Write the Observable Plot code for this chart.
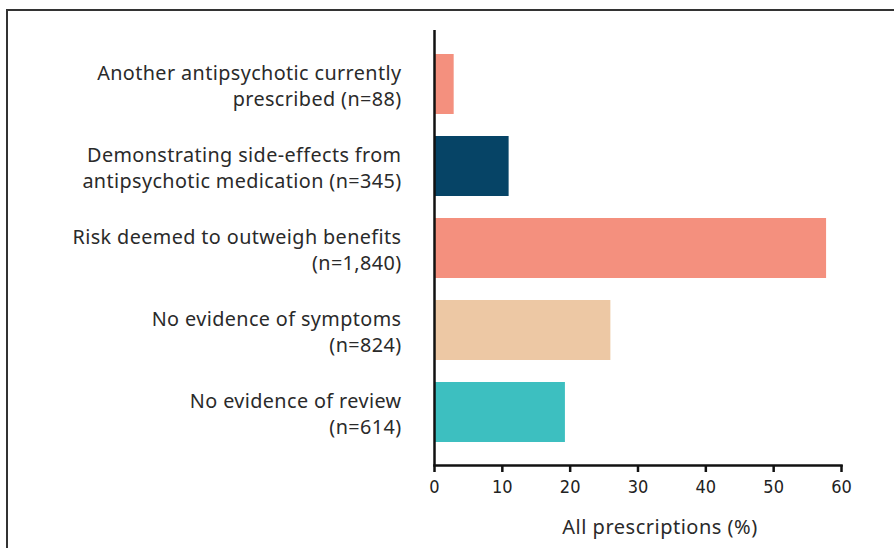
<!DOCTYPE html>
<html>
<head>
<meta charset="utf-8">
<script src="https://cdn.jsdelivr.net/npm/d3@7"></script>
<script src="https://cdn.jsdelivr.net/npm/@observablehq/plot@0.6"></script>
<style>
  html, body { margin: 0; padding: 0; background: #fff; }
  #wrap { position: relative; width: 894px; height: 548px; overflow: hidden; }
  #border { position: absolute; left: 6px; top: 9px; width: 900px; height: 600px;
            border-left: 2px solid #333; border-top: 2px solid #333; pointer-events: none; }
  #chart { position: absolute; left: 0; top: 0; }
  g[aria-label="y-axis tick label"] text { letter-spacing: 0.4px; }
  g.xlab text { letter-spacing: 0.5px; }
</style>
</head>
<body>
<div id="wrap"><div id="chart"></div><div id="border"></div></div>
<script>
const categories = [
  "Another antipsychotic currently\nprescribed (n=88)",
  "Demonstrating side-effects from\nantipsychotic medication (n=345)",
  "Risk deemed to outweigh benefits\n(n=1,840)",
  "No evidence of symptoms\n(n=824)",
  "No evidence of review\n(n=614)"
];
const values = [2.9, 11.0, 57.8, 26.0, 19.3];
const colors = ["#F4907E", "#064466", "#F4907E", "#EDC8A4", "#3DBFC0"];
const xTicks = [0, 10, 20, 30, 40, 50, 60];
const xLabel = "All prescriptions (%)";

const data = categories.map((c, i) => ({cat: c, value: values[i], color: colors[i]}));

const chart = Plot.plot({
  width: 894,
  height: 548,
  marginLeft: 434,
  marginRight: 53,
  marginTop: 30,
  marginBottom: 83,
  style: {fontFamily: "'Noto Sans', sans-serif", color: "#222", background: "transparent"},
  x: {domain: [0, 60], ticks: xTicks},
  y: {type: "band", domain: categories, insetTop: 12, insetBottom: 11, paddingInner: 0.27, paddingOuter: 0.135},
  marks: [
    Plot.barX(data, {x: "value", y: "cat", fill: "color"}),
    Plot.ruleX([0], {stroke: "#111", strokeWidth: 2.5}),
    Plot.frame({anchor: "bottom", stroke: "#111", strokeWidth: 2.5}),
    Plot.axisX({ticks: xTicks, tickSize: 7, tickPadding: 8, strokeWidth: 2.5, stroke: "#111",
                fontSize: 18, fill: "#222", label: null,
                fontFamily: "'Liberation Sans Narrow', 'DejaVu Sans Condensed', sans-serif"}),
    Plot.axisY({tickSize: 0, tickPadding: 33, fontSize: 19.8, lineHeight: 1.33, label: null, fill: "#2a2a2a"}),
    Plot.text([xLabel], {frameAnchor: "bottom", dx: 22, dy: 68, fontSize: 20, fill: "#2a2a2a", className: "xlab"})
  ]
});
document.getElementById("chart").appendChild(chart);
</script>
</body>
</html>
